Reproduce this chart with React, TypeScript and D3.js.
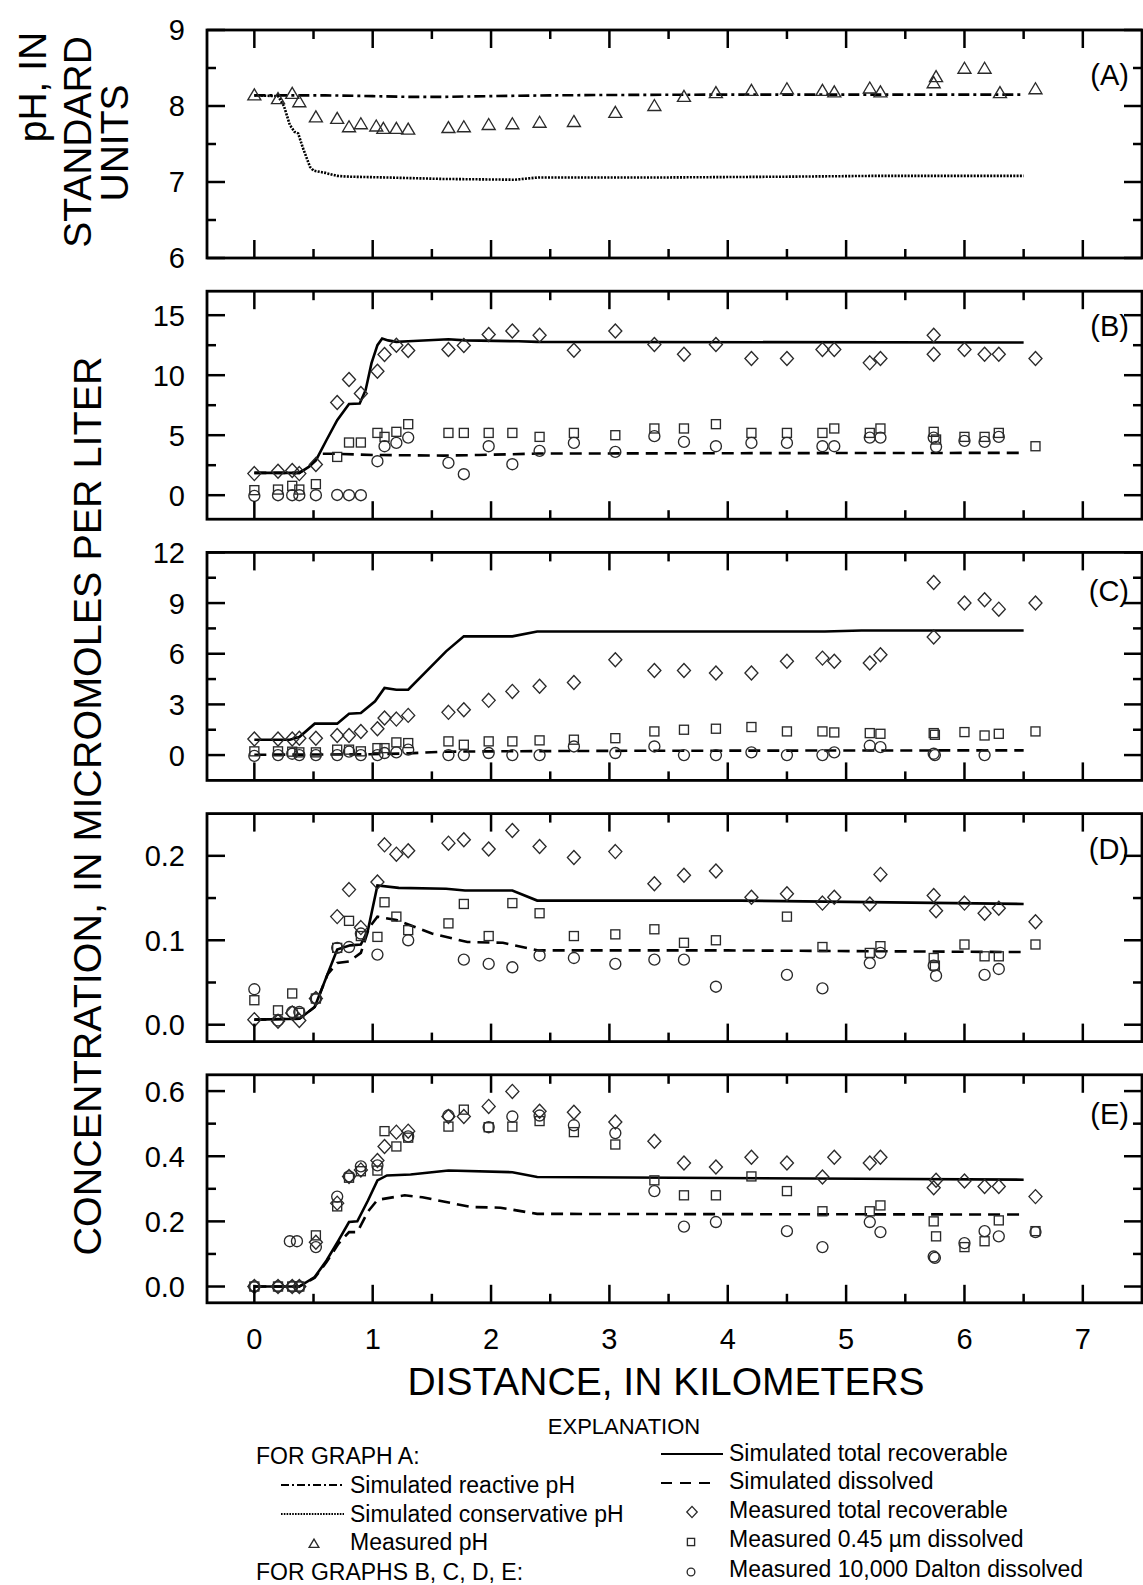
import React from 'react';
import * as d3 from 'd3';

type P = [number, number];
const FONT = "'Liberation Sans', Arial, Helvetica, sans-serif";

// ---------- Panel A : pH ----------
const phMeasured: P[] = [[0,8.14],[0.2,8.09],[0.32,8.16],[0.38,8.05],[0.52,7.85],[0.7,7.83],[0.8,7.72],[0.9,7.76],[1.03,7.73],[1.09,7.7],[1.2,7.7],[1.3,7.69],[1.64,7.71],[1.77,7.72],[1.98,7.75],[2.18,7.76],[2.41,7.78],[2.7,7.79],[3.05,7.91],[3.38,8.0],[3.63,8.12],[3.9,8.17],[4.2,8.2],[4.5,8.22],[4.8,8.2],[4.9,8.18],[5.2,8.23],[5.29,8.18],[5.74,8.3],[5.76,8.38],[6.0,8.49],[6.17,8.49],[6.3,8.17],[6.6,8.22]];
const phReactive: P[] = [[0,8.14],[0.3,8.14],[0.6,8.14],[1.0,8.13],[1.3,8.12],[1.6,8.12],[2.0,8.13],[2.5,8.14],[3.0,8.145],[4.0,8.15],[5.0,8.15],[6.5,8.15]];
const phConservative: P[] = [[0,8.14],[0.2,8.13],[0.25,8.0],[0.3,7.75],[0.34,7.66],[0.37,7.64],[0.41,7.45],[0.47,7.2],[0.5,7.15],[0.6,7.12],[0.7,7.08],[0.8,7.07],[1.1,7.06],[1.6,7.04],[2.2,7.03],[2.4,7.06],[3.5,7.06],[4.5,7.07],[5.2,7.08],[6.5,7.08]];

// ---------- Panel B ----------
const bTotal: P[] = [[0,1.8],[0.2,2.0],[0.32,2.06],[0.38,1.8],[0.52,2.56],[0.7,7.72],[0.8,9.64],[0.9,8.47],[1.04,10.33],[1.1,11.72],[1.2,12.5],[1.3,12.06],[1.64,12.14],[1.77,12.47],[1.98,13.39],[2.18,13.69],[2.41,13.33],[2.7,12.08],[3.05,13.69],[3.38,12.56],[3.63,11.75],[3.9,12.56],[4.2,11.39],[4.5,11.39],[4.8,12.14],[4.9,12.14],[5.2,11.03],[5.29,11.39],[5.74,13.33],[5.74,11.75],[6.0,12.14],[6.17,11.75],[6.29,11.75],[6.6,11.39]];
const bFiltered: P[] = [[0,0.42],[0.2,0.47],[0.32,0.78],[0.38,0.47],[0.52,0.92],[0.7,3.19],[0.8,4.39],[0.9,4.39],[1.04,5.19],[1.1,4.86],[1.2,5.28],[1.3,5.92],[1.64,5.19],[1.77,5.19],[1.98,5.19],[2.18,5.19],[2.41,4.86],[2.7,5.19],[3.05,5.0],[3.38,5.56],[3.63,5.56],[3.9,5.92],[4.2,5.19],[4.5,5.19],[4.8,5.19],[4.9,5.56],[5.2,5.19],[5.29,5.56],[5.74,5.28],[5.76,4.64],[6.0,4.86],[6.17,4.86],[6.29,5.19],[6.6,4.08]];
const bUltra: P[] = [[0,-0.05],[0.2,0],[0.32,0],[0.38,0],[0.52,0],[0.7,0.02],[0.8,0],[0.9,0],[1.04,2.83],[1.1,4.08],[1.2,4.36],[1.3,4.8],[1.64,2.69],[1.77,1.75],[1.98,4.08],[2.18,2.58],[2.41,3.69],[2.7,4.36],[3.05,3.61],[3.38,4.92],[3.63,4.44],[3.9,4.08],[4.2,4.36],[4.5,4.36],[4.8,4.08],[4.9,4.08],[5.2,4.8],[5.29,4.8],[5.74,4.8],[5.76,4.03],[6.0,4.53],[6.17,4.44],[6.29,4.86]];
const bSimTotal: P[] = [[0,1.86],[0.38,1.86],[0.46,2.36],[0.52,2.9],[0.61,4.6],[0.7,6.25],[0.8,7.6],[0.89,7.64],[0.94,8.75],[0.99,11.0],[1.04,12.5],[1.08,13.05],[1.13,12.9],[1.2,12.78],[1.3,12.83],[1.64,13.0],[1.78,12.9],[2.23,12.83],[2.39,12.78],[6.5,12.72]];
const bSimDiss: P[] = [[0,1.86],[0.38,1.86],[0.46,2.36],[0.52,3.0],[0.56,3.45],[0.7,3.45],[1.0,3.35],[1.6,3.3],[1.9,3.35],[2.4,3.47],[4.0,3.5],[6.5,3.53]];

// ---------- Panel C ----------
const cTotal: P[] = [[0,0.95],[0.2,0.95],[0.32,0.95],[0.38,1.0],[0.52,1.0],[0.7,1.16],[0.8,1.16],[0.9,1.4],[1.04,1.56],[1.1,2.19],[1.2,2.13],[1.3,2.35],[1.64,2.53],[1.77,2.68],[1.98,3.24],[2.18,3.77],[2.41,4.07],[2.7,4.3],[3.05,5.64],[3.38,5.01],[3.63,5.01],[3.9,4.86],[4.2,4.86],[4.5,5.55],[4.8,5.74],[4.9,5.55],[5.2,5.45],[5.29,5.94],[5.74,10.22],[5.74,6.99],[6.0,9.0],[6.17,9.2],[6.29,8.64],[6.6,9.0]];
const cFiltered: P[] = [[0,0.22],[0.2,0.22],[0.32,0.2],[0.38,0.16],[0.52,0.16],[0.7,0.32],[0.8,0.32],[0.9,0.22],[1.04,0.41],[1.1,0.41],[1.2,0.75],[1.3,0.71],[1.64,0.81],[1.77,0.61],[1.98,0.81],[2.18,0.81],[2.41,0.87],[2.7,0.91],[3.05,1.0],[3.38,1.4],[3.63,1.5],[3.9,1.56],[4.2,1.66],[4.5,1.4],[4.8,1.4],[4.9,1.34],[5.2,1.3],[5.29,1.26],[5.74,1.3],[5.75,1.2],[6.0,1.36],[6.17,1.16],[6.29,1.26],[6.6,1.4]];
const cUltra: P[] = [[0,-0.05],[0.2,0],[0.32,0.08],[0.38,0],[0.52,0],[0.7,0],[0.8,0.2],[0.9,0],[1.04,0],[1.1,0.12],[1.2,0.16],[1.3,0.32],[1.64,0],[1.77,0],[1.98,0.12],[2.18,0],[2.41,0],[2.7,0.51],[3.05,0.12],[3.38,0.51],[3.63,0],[3.9,0],[4.2,0.16],[4.5,0],[4.8,0],[4.9,0.16],[5.2,0.55],[5.29,0.47],[5.74,0.08],[5.75,0],[6.17,0]];
const cSimTotal: P[] = [[0,0.91],[0.3,0.91],[0.38,1.07],[0.51,1.86],[0.7,1.86],[0.8,2.45],[0.9,2.49],[1.02,3.18],[1.1,3.97],[1.2,3.87],[1.3,3.87],[1.62,6.14],[1.77,7.03],[2.18,7.03],[2.39,7.32],[4.82,7.32],[5.13,7.38],[6.5,7.38]];
const cSimDiss: P[] = [[0,0.02],[0.5,0.03],[1.0,0.05],[1.3,0.1],[1.6,0.2],[2.0,0.22],[3.0,0.25],[5.0,0.27],[6.5,0.28]];

// ---------- Panel D ----------
const dTotal: P[] = [[0,0.006],[0.2,0.004],[0.32,0.014],[0.38,0.005],[0.52,0.031],[0.7,0.128],[0.8,0.16],[0.9,0.115],[1.04,0.169],[1.1,0.213],[1.2,0.202],[1.3,0.206],[1.64,0.215],[1.77,0.219],[1.98,0.208],[2.18,0.23],[2.41,0.211],[2.7,0.198],[3.05,0.205],[3.38,0.167],[3.63,0.177],[3.9,0.182],[4.2,0.151],[4.5,0.155],[4.8,0.144],[4.9,0.151],[5.2,0.143],[5.29,0.178],[5.74,0.153],[5.76,0.135],[6.0,0.144],[6.17,0.132],[6.29,0.138],[6.6,0.122]];
const dFiltered: P[] = [[0,0.029],[0.2,0.017],[0.32,0.037],[0.38,0.014],[0.52,0.031],[0.7,0.091],[0.8,0.123],[0.9,0.105],[1.04,0.104],[1.1,0.145],[1.2,0.128],[1.3,0.112],[1.64,0.12],[1.77,0.143],[1.98,0.105],[2.18,0.144],[2.41,0.132],[2.7,0.105],[3.05,0.107],[3.38,0.113],[3.63,0.097],[3.9,0.1],[4.5,0.128],[4.8,0.092],[5.2,0.085],[5.29,0.093],[5.74,0.079],[5.75,0.07],[6.0,0.095],[6.17,0.081],[6.29,0.081],[6.6,0.095]];
const dUltra: P[] = [[0,0.042],[0.2,0.005],[0.32,0.015],[0.38,0.015],[0.52,0.031],[0.7,0.091],[0.8,0.092],[0.9,0.108],[1.04,0.083],[1.3,0.1],[1.77,0.077],[1.98,0.072],[2.18,0.068],[2.41,0.082],[2.7,0.079],[3.05,0.072],[3.38,0.077],[3.63,0.077],[3.9,0.045],[4.5,0.059],[4.8,0.043],[5.2,0.073],[5.29,0.085],[5.74,0.07],[5.76,0.058],[6.17,0.059],[6.29,0.066]];
const dSimTotal: P[] = [[0,0.006],[0.38,0.007],[0.51,0.021],[0.7,0.089],[0.81,0.094],[0.9,0.095],[0.96,0.112],[1.04,0.165],[1.22,0.162],[1.62,0.161],[1.78,0.159],[2.18,0.159],[2.39,0.147],[4.11,0.147],[6.5,0.143]];
const dSimDiss: P[] = [[0,0.006],[0.38,0.007],[0.51,0.021],[0.62,0.06],[0.7,0.073],[0.8,0.075],[0.9,0.085],[0.97,0.115],[1.04,0.128],[1.2,0.124],[1.5,0.108],[1.8,0.098],[2.1,0.097],[2.4,0.088],[4.0,0.088],[6.5,0.086]];

// ---------- Panel E ----------
const eTotal: P[] = [[0,0],[0.2,0],[0.32,0],[0.38,0],[0.52,0.136],[0.7,0.256],[0.8,0.338],[0.9,0.358],[1.04,0.387],[1.1,0.43],[1.2,0.474],[1.3,0.477],[1.64,0.522],[1.77,0.522],[1.98,0.553],[2.18,0.599],[2.41,0.538],[2.7,0.535],[3.05,0.505],[3.38,0.446],[3.63,0.379],[3.9,0.367],[4.2,0.397],[4.5,0.379],[4.8,0.336],[4.9,0.397],[5.2,0.379],[5.29,0.397],[5.74,0.303],[5.76,0.326],[6.0,0.324],[6.17,0.307],[6.29,0.307],[6.6,0.276]];
const eFiltered: P[] = [[0,0],[0.2,0],[0.32,0],[0.38,0],[0.52,0.157],[0.7,0.246],[0.8,0.334],[0.9,0.354],[1.04,0.356],[1.1,0.477],[1.2,0.43],[1.3,0.457],[1.64,0.491],[1.77,0.543],[1.98,0.489],[2.18,0.491],[2.41,0.508],[2.7,0.474],[3.05,0.436],[3.38,0.326],[3.63,0.28],[3.9,0.28],[4.2,0.338],[4.5,0.293],[4.8,0.231],[5.2,0.231],[5.29,0.249],[5.74,0.2],[5.76,0.154],[6.0,0.121],[6.17,0.139],[6.29,0.203],[6.6,0.17]];
const eUltra: P[] = [[0,0],[0.2,0],[0.32,0],[0.38,0],[0.3,0.139],[0.36,0.139],[0.52,0.121],[0.7,0.276],[0.8,0.338],[0.9,0.369],[1.04,0.372],[1.3,0.461],[1.64,0.525],[1.98,0.489],[2.18,0.522],[2.41,0.525],[2.7,0.495],[3.05,0.471],[3.38,0.293],[3.63,0.184],[3.9,0.198],[4.5,0.17],[4.8,0.121],[5.2,0.198],[5.29,0.167],[5.74,0.092],[5.75,0.088],[6.0,0.133],[6.17,0.17],[6.29,0.154],[6.6,0.167]];
const eSimTotal: P[] = [[0,0],[0.38,0],[0.51,0.029],[0.61,0.08],[0.71,0.141],[0.8,0.198],[0.87,0.2],[0.96,0.264],[1.04,0.326],[1.12,0.341],[1.32,0.344],[1.64,0.356],[2.18,0.351],[2.39,0.336],[5.13,0.331],[6.5,0.328]];
const eSimDiss: P[] = [[0,0],[0.38,0],[0.51,0.027],[0.61,0.075],[0.71,0.131],[0.8,0.167],[0.87,0.167],[0.96,0.23],[1.04,0.266],[1.27,0.28],[1.42,0.274],[1.83,0.244],[2.08,0.242],[2.39,0.223],[6.5,0.221]];

// ---------- axes ----------
const xMajor = [0, 1, 2, 3, 4, 5, 6, 7];
const xMinor = [0.5, 1.5, 2.5, 3.5, 4.5, 5.5, 6.5];
const panelLabels = ['(A)', '(B)', '(C)', '(D)', '(E)'];
const yDomains: [number, number][] = [[6, 9], [-2, 17], [-1.5, 12], [-0.02, 0.25], [-0.05, 0.65]];
const yMajors = [[6, 7, 8, 9], [0, 5, 10, 15], [0, 3, 6, 9, 12], [0, 0.1, 0.2], [0, 0.2, 0.4, 0.6]];
const yMinors = [[6.5, 7.5, 8.5], [2.5, 7.5, 12.5], [1.5, 4.5, 7.5, 10.5], [0.05, 0.15], [0.1, 0.3, 0.5]];
const yFormats = ['d', 'd', 'd', '.1f', '.1f'];

const legendLeft = ['Simulated reactive pH', 'Simulated conservative pH', 'Measured pH'];
const legendRight = ['Simulated total recoverable', 'Simulated dissolved', 'Measured total recoverable', 'Measured 0.45 \u00b5m dissolved', 'Measured 10,000 Dalton dissolved'];

// ---------- layout ----------
const X0 = 207, X1 = 1142;
const PANEL_TOPS = [30, 291.2, 552.4, 813.6, 1074.8];
const PANEL_H = 228;
const LABEL_DY = [55, 45, 49, 45, 49];
const MAJ = 18, MIN = 9;
const MK = '#2a2a2a';

function Marker({ shape, cx, cy, s = 1 }: { shape: string; cx: number; cy: number; s?: number }) {
  const common = { fill: 'none', stroke: MK, strokeWidth: 1.35 };
  if (shape === 'diamond') {
    const w = 6.5 * s, h = 7 * s;
    return <path d={`M${cx},${cy - h}L${cx + w},${cy}L${cx},${cy + h}L${cx - w},${cy}Z`} {...common} />;
  }
  if (shape === 'square') {
    const a = 4.5 * s;
    return <rect x={cx - a} y={cy - a} width={2 * a} height={2 * a} {...common} />;
  }
  if (shape === 'circle') {
    return <circle cx={cx} cy={cy} r={5.5 * s} {...common} />;
  }
  const w = 6.5 * s;
  return <path d={`M${cx},${cy - 6.5 * s}L${cx + w},${cy + 4.5 * s}L${cx - w},${cy + 4.5 * s}Z`} {...common} />;
}

export default function App() {
  const x = d3.scaleLinear().domain([-0.4, 7.5]).range([X0, X1]);

  const panelLines: { data: P[]; style: string }[][] = [
    [{ data: phReactive, style: 'dashdot' }, { data: phConservative, style: 'dot' }],
    [{ data: bSimTotal, style: 'solid' }, { data: bSimDiss, style: 'dash' }],
    [{ data: cSimTotal, style: 'solid' }, { data: cSimDiss, style: 'dash' }],
    [{ data: dSimTotal, style: 'solid' }, { data: dSimDiss, style: 'dash' }],
    [{ data: eSimTotal, style: 'solid' }, { data: eSimDiss, style: 'dash' }],
  ];
  const panelPoints: { data: P[]; shape: string }[][] = [
    [{ data: phMeasured, shape: 'triangle' }],
    [{ data: bTotal, shape: 'diamond' }, { data: bFiltered, shape: 'square' }, { data: bUltra, shape: 'circle' }],
    [{ data: cTotal, shape: 'diamond' }, { data: cFiltered, shape: 'square' }, { data: cUltra, shape: 'circle' }],
    [{ data: dTotal, shape: 'diamond' }, { data: dFiltered, shape: 'square' }, { data: dUltra, shape: 'circle' }],
    [{ data: eTotal, shape: 'diamond' }, { data: eFiltered, shape: 'square' }, { data: eUltra, shape: 'circle' }],
  ];

  const lineStyle = (s: string) => {
    if (s === 'solid') return { stroke: '#000', strokeWidth: 2.6 };
    if (s === 'dash') return { stroke: '#000', strokeWidth: 2.6, strokeDasharray: '12,7' };
    if (s === 'dashdot') return { stroke: '#000', strokeWidth: 2.6, strokeDasharray: '11,4,3,4' };
    return { stroke: '#000', strokeWidth: 2.6, strokeDasharray: '2,1.3' };
  };

  return (
    <svg width={1143} height={1585} style={{ position: 'absolute', left: 0, top: 0, background: '#fff' }} fontFamily={FONT}>
      <rect x={0} y={0} width={1143} height={1585} fill="#fff" />
      {PANEL_TOPS.map((top, i) => {
        const y = d3.scaleLinear().domain(yDomains[i]).range([top + PANEL_H, top]);
        const bottom = top + PANEL_H;
        const line = d3.line<P>().x(d => x(d[0])).y(d => y(d[1]));
        const fmt = d3.format(yFormats[i]);
        return (
          <g key={i}>
            {panelLines[i].map((l, j) => (
              <path key={j} d={line(l.data) || ''} fill="none" {...lineStyle(l.style)} />
            ))}
            {panelPoints[i].map((s, j) => (
              <g key={j}>
                {s.data.map((d, k) => <Marker key={k} shape={s.shape} cx={x(d[0])} cy={y(d[1])} />)}
              </g>
            ))}
            {xMajor.map(v => (
              <g key={'xM' + v} stroke="#000" strokeWidth={2.5}>
                <line x1={x(v)} x2={x(v)} y1={top} y2={top + MAJ} />
                <line x1={x(v)} x2={x(v)} y1={bottom} y2={bottom - MAJ} />
              </g>
            ))}
            {xMinor.map(v => (
              <g key={'xm' + v} stroke="#000" strokeWidth={2.5}>
                <line x1={x(v)} x2={x(v)} y1={top} y2={top + MIN} />
                <line x1={x(v)} x2={x(v)} y1={bottom} y2={bottom - MIN} />
              </g>
            ))}
            {yMajors[i].map(v => (
              <g key={'yM' + v} stroke="#000" strokeWidth={2.5}>
                <line x1={X0} x2={X0 + MAJ} y1={y(v)} y2={y(v)} />
                <line x1={X1} x2={X1 - MAJ} y1={y(v)} y2={y(v)} />
              </g>
            ))}
            {yMinors[i].map(v => (
              <g key={'ym' + v} stroke="#000" strokeWidth={2.5}>
                <line x1={X0} x2={X0 + MIN} y1={y(v)} y2={y(v)} />
                <line x1={X1} x2={X1 - MIN} y1={y(v)} y2={y(v)} />
              </g>
            ))}
            {yMajors[i].map(v => (
              <text key={'yl' + v} x={185} y={y(v)} dy="0.36em" textAnchor="end" fontSize={29} fill="#000">{fmt(v)}</text>
            ))}
            <rect x={X0} y={top} width={X1 - X0} height={PANEL_H} fill="none" stroke="#000" strokeWidth={2.8} />
            <text x={1129} y={top + LABEL_DY[i]} textAnchor="end" fontSize={29} fill="#000">{panelLabels[i]}</text>
          </g>
        );
      })}
      {xMajor.map(v => (
        <text key={'xl' + v} x={x(v)} y={1349} textAnchor="middle" fontSize={29} fill="#000">{v}</text>
      ))}
      <text x={666} y={1395} textAnchor="middle" fontSize={39} fill="#000">DISTANCE, IN KILOMETERS</text>

      <text transform="translate(101,806) rotate(-90)" textAnchor="middle" fontSize={39.5} fill="#000">CONCENTRATION, IN MICROMOLES PER LITER</text>
      <g fontSize={39} fill="#000" textAnchor="middle">
        <text transform="translate(46,87) rotate(-90)">pH, IN</text>
        <text transform="translate(91,142) rotate(-90)">STANDARD</text>
        <text transform="translate(128,143) rotate(-90)">UNITS</text>
      </g>

      <g fontSize={23} fill="#000">
        <text x={624} y={1434} textAnchor="middle" fontSize={22}>EXPLANATION</text>
        <text x={256} y={1464}>FOR GRAPH A:</text>
        <line x1={281} x2={344} y1={1485} y2={1485} stroke="#000" strokeWidth={2} strokeDasharray="8,3,2,3" />
        <text x={350} y={1493}>{legendLeft[0]}</text>
        <line x1={281} x2={344} y1={1514} y2={1514} stroke="#000" strokeWidth={1.8} strokeDasharray="1.6,1.2" />
        <text x={350} y={1522}>{legendLeft[1]}</text>
        <Marker shape="triangle" cx={314} cy={1544} s={0.75} />
        <text x={350} y={1550}>{legendLeft[2]}</text>
        <text x={256} y={1580}>FOR GRAPHS B, C, D, E:</text>

        <line x1={661} x2={723} y1={1454} y2={1454} stroke="#000" strokeWidth={2} />
        <text x={729} y={1461}>{legendRight[0]}</text>
        <line x1={661} x2={718} y1={1483} y2={1483} stroke="#000" strokeWidth={2} strokeDasharray="11,8" />
        <text x={729} y={1489}>{legendRight[1]}</text>
        <Marker shape="diamond" cx={692} cy={1512} s={0.8} />
        <text x={729} y={1518}>{legendRight[2]}</text>
        <Marker shape="square" cx={691} cy={1542} s={0.8} />
        <text x={729} y={1547}>{legendRight[3]}</text>
        <Marker shape="circle" cx={691} cy={1572} s={0.7} />
        <text x={729} y={1577}>{legendRight[4]}</text>
      </g>
    </svg>
  );
}
